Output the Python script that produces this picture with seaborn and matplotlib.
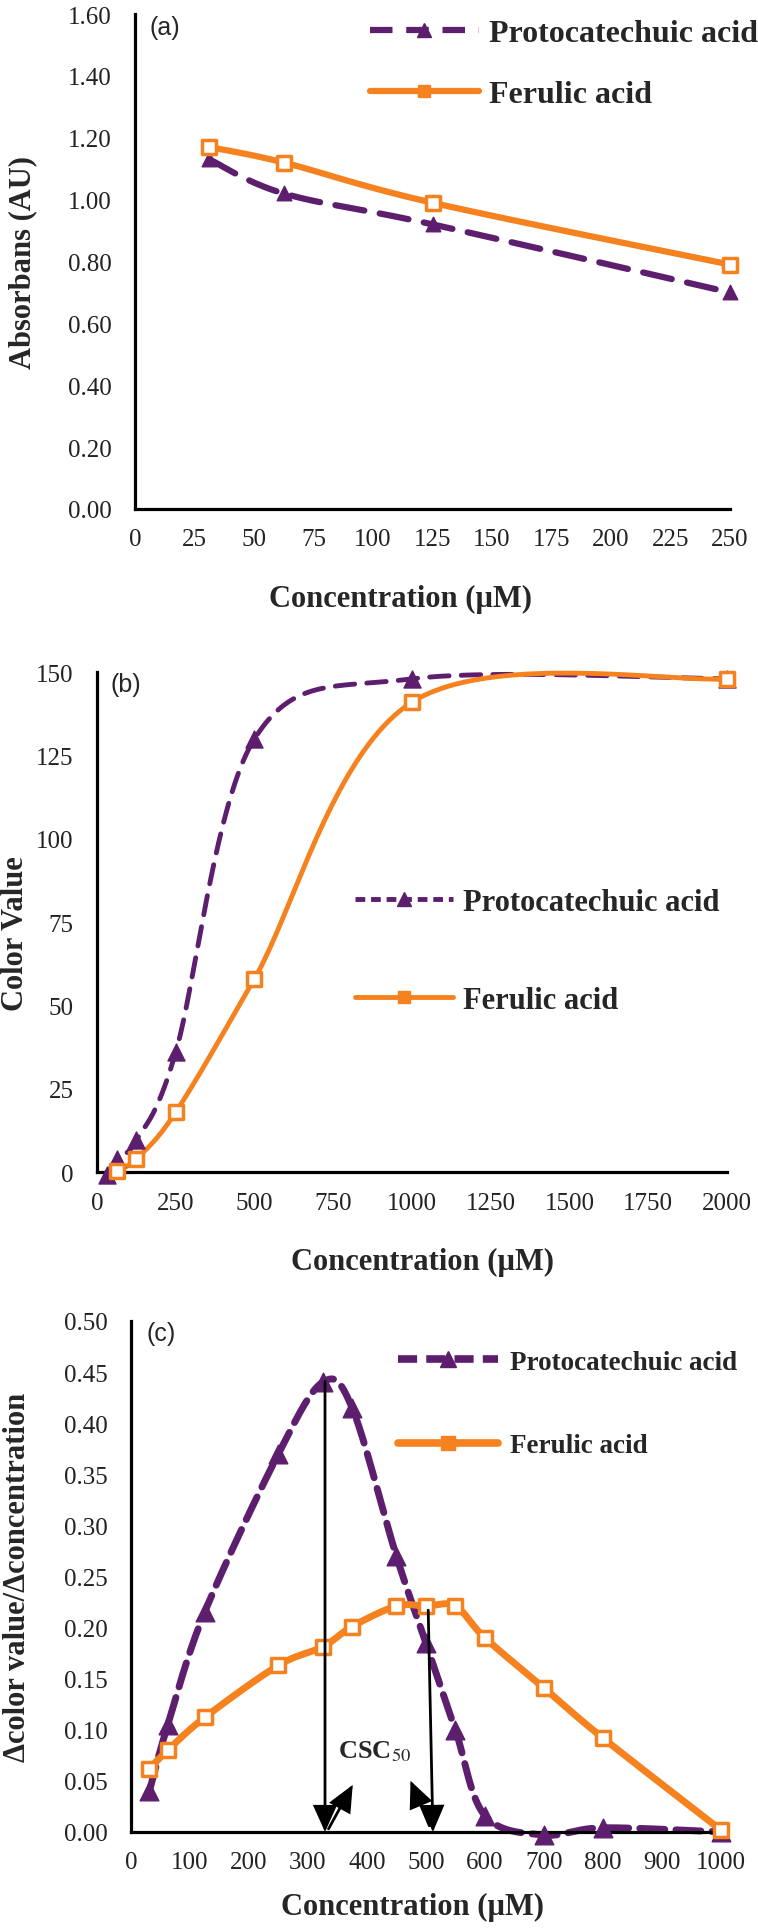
import numpy as np
import seaborn as sns
import matplotlib.pyplot as plt
from matplotlib.lines import Line2D
from matplotlib.font_manager import FontProperties

PURPLE = '#5E1E6E'
ORANGE = '#F5821F'

# (a) absorbance
conc_a = [31.25, 62.5, 125, 250]
proto_a = [1.13, 1.02, 0.92, 0.70]
ferulic_a = [1.17, 1.12, 0.99, 0.79]
xticks_a = list(range(0, 251, 25))
yticks_a = [0.0, 0.2, 0.4, 0.6, 0.8, 1.0, 1.2, 1.4, 1.6]

# (b) color value
conc_b_proto = [31.25, 62.5, 125, 250, 500, 1000, 2000]
proto_b = [-1.0, 4.0, 9.5, 36.0, 130.0, 148.0, 148.0]
conc_b_ferulic = [62.5, 125, 250, 500, 1000, 2000]
ferulic_b = [0.4, 4.0, 18.0, 58.0, 141.0, 148.0]
xticks_b = list(range(0, 2001, 250))
yticks_b = [0, 25, 50, 75, 100, 125, 150]

# (c) delta color value / delta concentration
conc_c = [31.25, 62.5, 125, 250, 325, 375, 450, 500, 550, 600, 700, 800, 1000]
proto_c = [0.04, 0.105, 0.215, 0.37, 0.44, 0.415, 0.27, 0.185, 0.10, 0.016, -0.003, 0.004, 0.0]
ferulic_c = [0.062, 0.08, 0.112, 0.163, 0.181, 0.201, 0.221, 0.221, 0.221, 0.19, 0.141, 0.092, 0.002]
xticks_c = list(range(0, 1001, 100))
yticks_c = [0.0, 0.05, 0.10, 0.15, 0.20, 0.25, 0.30, 0.35, 0.40, 0.45, 0.50]

labels = ['Protocatechuic acid', 'Ferulic acid']


def smooth(x, y, sx, sy, n=40):
    # excel style smoothed line (bezier through the points), done in pixel space
    p = np.column_stack([np.asarray(x, float) * sx, np.asarray(y, float) * sy])
    out = []
    for i in range(len(p) - 1):
        p0 = p[i - 1] if i > 0 else p[i]
        p1, p2 = p[i], p[i + 1]
        p3 = p[i + 2] if i + 2 < len(p) else p[i + 1]
        c1 = p1 + (p2 - p0) / 6
        c2 = p2 - (p3 - p1) / 6
        t = np.linspace(0, 1, n)[:, None]
        seg = (1 - t) ** 3 * p1 + 3 * (1 - t) ** 2 * t * c1 + 3 * (1 - t) * t ** 2 * c2 + t ** 3 * p2
        out.append(seg if i == 0 else seg[1:])
    out = np.vstack(out)
    return out[:, 0] / sx, out[:, 1] / sy


def draw_series(ax, x, y, sx, sy, color, lw, dashes, marker, s, open_marker):
    xs, ys = smooth(x, y, sx, sy)
    sns.lineplot(x=xs, y=ys, ax=ax, color=color, lw=lw, sort=False, estimator=None,
                 clip_on=False, zorder=2)
    ln = ax.lines[-1]
    if dashes is not None:
        ln.set_linestyle((0, dashes))
        ln.set_dash_capstyle('round')
    if open_marker:
        sns.scatterplot(x=x, y=y, ax=ax, marker=marker, s=s, color='white',
                        edgecolor=color, linewidth=2.5, zorder=3, clip_on=False)
    else:
        sns.scatterplot(x=x, y=y, ax=ax, marker=marker, s=s, color=color,
                        edgecolor=color, linewidth=1, zorder=3, clip_on=False)


def style_axis(ax, xticks, yticks, yfmt):
    sns.despine(ax=ax)
    for side in ['left', 'bottom']:
        ax.spines[side].set_linewidth(2.3)
        ax.spines[side].set_color('black')
    ax.set_xlim(xticks[0], xticks[-1])
    ax.set_ylim(yticks[0], yticks[-1])
    ax.set_xticks(xticks)
    ax.set_yticks(yticks)
    ax.set_yticklabels([yfmt.format(v) for v in yticks])
    ax.tick_params(axis='both', direction='out', length=5, width=2, color='black',
                   labelsize=18, labelcolor='#222222')
    ax.tick_params(axis='x', pad=9)
    ax.tick_params(axis='y', pad=12)


def add_legend(ax, x, y, lw, dashes, fsize, spacing, hlen, tpad, msize):
    h1 = Line2D([], [], color=PURPLE, lw=lw, linestyle=(0, dashes), marker='^',
                markersize=msize, markerfacecolor=PURPLE, markeredgecolor=PURPLE)
    h2 = Line2D([], [], color=ORANGE, lw=lw, marker='s', markersize=msize * 0.9,
                markerfacecolor=ORANGE, markeredgecolor=ORANGE)
    ax.legend(handles=[h1, h2], labels=labels, loc='center left', bbox_to_anchor=(x, y),
              frameon=False, handlelength=hlen, handletextpad=tpad, labelspacing=spacing,
              borderpad=0, borderaxespad=0,
              prop=FontProperties(family='Liberation Serif', weight='bold', size=fsize))


def main():
    sns.set_style('white')
    plt.rcParams['font.family'] = ['Liberation Serif', 'DejaVu Serif']
    plt.rcParams['mathtext.fontset'] = 'stix'

    fig = plt.figure(figsize=(7.58, 19.31), dpi=100)
    ax_a = fig.add_axes([0.1781, 0.7359, 0.785, 0.2563])
    ax_b = fig.add_axes([0.128, 0.3925, 0.831, 0.2589])
    ax_c = fig.add_axes([0.1728, 0.0508, 0.778, 0.2646])

    label_font = dict(fontsize=22, fontweight='bold')
    panel_font = dict(fontsize=18, family='Liberation Sans', va='center', ha='left')

    # (a)
    sx, sy = 595 / 250, 495 / 1.6
    draw_series(ax_a, conc_a, proto_a, sx, sy, PURPLE, 4.5, (4.7, 2.5), '^', 110, False)
    draw_series(ax_a, conc_a, ferulic_a, sx, sy, ORANGE, 4.5, None, 's', 110, True)
    style_axis(ax_a, xticks_a, yticks_a, '{:.2f}')
    ax_a.set_xlabel('Concentration (µM)', **label_font)
    ax_a.set_ylabel('Absorbans (AU)', **label_font)
    ax_a.xaxis.set_label_coords(0.447, -0.152)
    ax_a.yaxis.set_label_coords(-0.165, 0.5)
    ax_a.text(0.025, 0.974, '(a)', transform=ax_a.transAxes, **panel_font)
    add_legend(ax_a, 0.395, 0.899, 4.5, (3.6, 2.2), 23, 1.0, 3.4, 0.33, 10)

    # (b)
    sx, sy = 630 / 2000, 500 / 150
    draw_series(ax_b, conc_b_proto, proto_b, sx, sy, PURPLE, 3.5, (4, 2.5), '^', 150, False)
    draw_series(ax_b, conc_b_ferulic, ferulic_b, sx, sy, ORANGE, 3.5, None, 's', 110, True)
    style_axis(ax_b, xticks_b, yticks_b, '{:.0f}')
    ax_b.set_xlabel('Concentration (µM)', **label_font)
    ax_b.set_ylabel('Color Value', **label_font)
    ax_b.xaxis.set_label_coords(0.516, -0.15)
    ax_b.yaxis.set_label_coords(-0.106, 0.478)
    ax_b.text(0.021, 0.976, '(b)', transform=ax_b.transAxes, **panel_font)
    add_legend(ax_b, 0.4095, 0.441, 3.5, (2, 1.2), 22, 2.26, 3.2, 0.33, 10)

    # (c)
    sx, sy = 590 / 1000, 511 / 0.5
    draw_series(ax_c, conc_c, proto_c, sx, sy, PURPLE, 5, (3.6, 1.6), '^', 180, False)
    draw_series(ax_c, conc_c, ferulic_c, sx, sy, ORANGE, 5, None, 's', 110, True)
    style_axis(ax_c, xticks_c, yticks_c, '{:.2f}')
    ax_c.set_xlabel('Concentration (µM)', **label_font)
    ax_c.set_ylabel('Δcolor value/Δconcentration', **label_font)
    ax_c.xaxis.set_label_coords(0.478, -0.117)
    ax_c.yaxis.set_label_coords(-0.168, 0.5)
    ax_c.text(0.027, 0.977, '(c)', transform=ax_c.transAxes, **panel_font)
    add_legend(ax_c, 0.4525, 0.8376, 5.5, (2.5, 1.2), 19.5, 2.16, 3.7, 0.44, 11)

    arrow = dict(arrowstyle='-|>,head_length=0.8,head_width=0.36', color='black', lw=2,
                 shrinkA=0, shrinkB=0, mutation_scale=20, joinstyle='miter')
    ax_c.annotate('', xy=(329, 0.0), xytext=(329, 0.441), arrowprops=arrow, zorder=5)
    ax_c.annotate('', xy=(512, 0.0), xytext=(504, 0.217), arrowprops=arrow, zorder=5)
    ax_c.annotate('', xy=(376, 0.046), xytext=(335, 0.003), arrowprops=arrow, zorder=5)
    ax_c.annotate('', xy=(474, 0.05), xytext=(506, 0.006), arrowprops=arrow, zorder=5)
    ax_c.text(351, 0.0795, r'CSC$_{50}$', fontsize=19, fontweight='bold', va='center', ha='left')

    fig.savefig('out.png', dpi=100)
    plt.close(fig)


if __name__ == '__main__':
    main()
